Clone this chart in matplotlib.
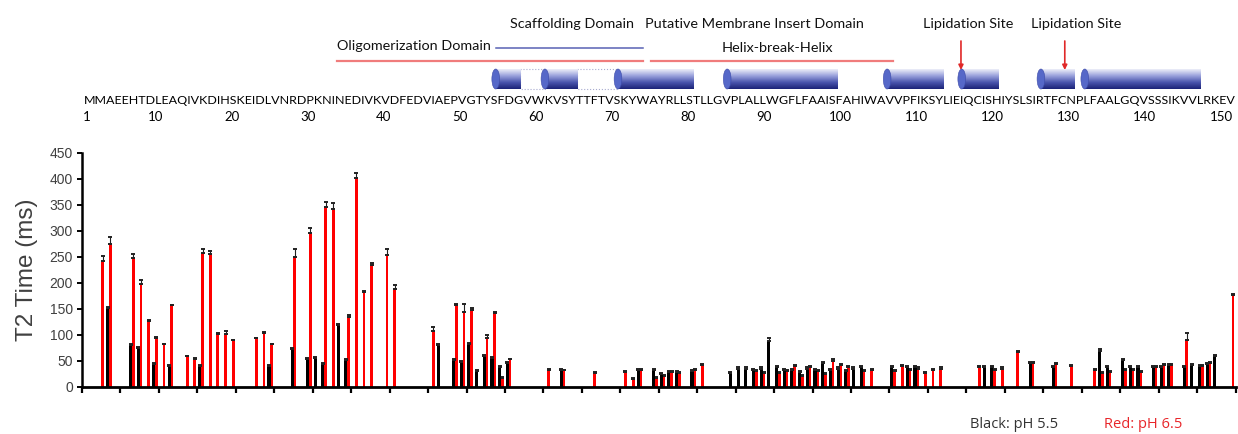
import numpy as np
import matplotlib
matplotlib.use("Agg")
import matplotlib.pyplot as plt
from matplotlib.patches import Ellipse, Rectangle
from matplotlib.colors import LinearSegmentedColormap

# T2 times per residue (ms); upper error bar only
red_res = [3, 4, 7, 8, 9, 10, 11, 12, 14, 15, 16, 17, 18, 19, 20, 23, 24, 25, 28, 30,
           32, 33, 35, 36, 37, 38, 40, 41, 46, 49, 50, 51, 53, 54, 55, 56, 61, 63, 67, 71,
           72, 73, 75, 76, 77, 78, 80, 81, 88, 89, 91, 92, 93, 94, 95, 96, 97, 98, 99, 100,
           102, 103, 106, 107, 108, 109, 110, 111, 112, 117, 119, 120, 122, 124, 127, 129, 132, 133, 134, 136,
           137, 138, 140, 141, 142, 144, 146, 147, 150]
red_val = [241, 274, 248, 198, 126, 94, 82, 157, 59, 54, 258, 255, 101, 101, 89, 93, 104, 82, 250, 296,
           345, 341, 135, 401, 182, 234, 254, 187, 107, 158, 144, 148, 94, 142, 17, 53, 33, 32, 27, 29,
           15, 33, 16, 20, 29, 27, 33, 41, 31, 27, 27, 31, 40, 20, 38, 31, 24, 50, 41, 37,
           31, 32, 31, 40, 33, 35, 27, 32, 35, 37, 32, 35, 67, 46, 43, 40, 32, 27, 29, 33,
           33, 29, 37, 41, 41, 89, 40, 45, 176]
red_err = [10, 14, 7, 8, 2, 2, 1, 1, 1, 2, 7, 5, 2, 7, 1, 1, 2, 1, 15, 10,
           10, 13, 2, 9, 2, 4, 11, 9, 8, 1, 16, 4, 6, 2, 1, 1, 2, 1, 2, 2,
           2, 2, 2, 2, 2, 2, 2, 2, 2, 2, 2, 2, 2, 2, 2, 2, 2, 3, 2, 2,
           2, 2, 2, 2, 2, 2, 2, 2, 2, 2, 2, 2, 2, 2, 2, 2, 2, 2, 2, 2,
           2, 2, 2, 2, 2, 15, 2, 2, 3]

black_res = [4, 7, 8, 10, 12, 16, 25, 28, 30, 31, 32, 34, 35, 47, 49, 50, 51, 52, 53, 54,
             55, 56, 63, 73, 75, 76, 77, 78, 80, 85, 86, 87, 88, 89, 90, 91, 92, 93, 94, 95,
             96, 97, 98, 99, 100, 101, 102, 106, 108, 109, 118, 119, 124, 127, 133, 134, 136, 137, 138, 140,
             141, 142, 144, 145, 146, 147, 148]
black_val = [152, 80, 74, 43, 40, 40, 40, 72, 53, 56, 43, 118, 51, 81, 52, 47, 83, 31, 59, 56,
             38, 46, 32, 33, 32, 24, 29, 29, 31, 27, 35, 35, 32, 35, 88, 37, 33, 32, 28, 35,
             33, 46, 33, 35, 31, 35, 38, 38, 37, 37, 38, 37, 46, 37, 68, 37, 52, 38, 37, 37,
             38, 41, 38, 41, 40, 43, 59]
black_err = [2] * len(black_res)
black_err[black_res.index(90)] = 5
black_err[black_res.index(133)] = 4

sequence = ("MMAEEHTDLEAQIVKDIHSKEIDLVNRDPKNINEDIVKVDFEDVIAEPVGTYSFDGVWKV"
            "SYTTFTVSKYWAYRLLSTLLGVPLALLWGFLFAAISFAHIWAVVPFIKSYLIEIQCISHI"
            "YSLSIRTFCNPLFAALGQVSSSIKVVLRKEV")
seq_numbers = [1, 10, 20, 30, 40, 50, 60, 70, 80, 90, 100, 110, 120, 130, 140, 150]

# helices (residue ranges) and unstructured links between them
helix_start = [54.3, 60.7, 70.2, 84.4, 105.2, 114.9, 125.2, 130.9]
helix_end = [57.5, 64.9, 80.0, 98.8, 112.6, 119.7, 129.5, 145.9]
link_start = [57.5, 64.9]
link_end = [60.7, 70.2]

lipid_sites = [114.8, 128.3]

fig = plt.figure(figsize=(12.38, 4.34), dpi=100)
W, H = 1238, 434

# main bar chart
ax = fig.add_axes([82 / W, (H - 386.7) / H, 1153.5 / W, 234 / H])
ax.bar(np.array(red_res) + 0.17, red_val, width=0.36, color="#ff0000",
       yerr=[np.zeros(len(red_err)), red_err],
       error_kw=dict(ecolor="#222222", elinewidth=0.8, capsize=1.6, capthick=1.4), zorder=2)
ax.bar(np.array(black_res) - 0.18, black_val, width=0.4, color="black",
       yerr=[np.zeros(len(black_err)), black_err],
       error_kw=dict(ecolor="#222222", elinewidth=0.8, capsize=1.6, capthick=1.4), zorder=3)

ax.set_xlim(0.5, 150.5)
ax.set_ylim(0, 450)
ax.set_yticks(np.arange(0, 451, 50))
ax.set_xticks(np.arange(0.5, 151, 5))
ax.set_xticklabels([])
ax.spines["top"].set_visible(False)
ax.spines["right"].set_visible(False)
ax.spines["left"].set_linewidth(1.8)
ax.spines["bottom"].set_linewidth(2.0)
ax.tick_params(axis="y", direction="out", length=3.5, width=1.4, pad=3,
               labelsize=10, labelcolor="#404040")
ax.tick_params(axis="x", direction="out", length=4, width=1.6)
for lab in ax.get_yticklabels():
    lab.set_family(["Liberation Sans", "DejaVu Sans"])
ax.set_ylabel("T2 Time (ms)", fontsize=17.5, color="#404040",
              family=["Liberation Sans", "DejaVu Sans"], labelpad=8)

# legend text
fig.text(970 / W, 1 - 425 / H, "Black: pH 5.5", fontsize=10.5, color="#333333",
         family=["Open Sans", "DejaVu Sans"], va="center", ha="left")
fig.text(1104 / W, 1 - 425 / H, "Red: pH 6.5", fontsize=10.5, color="#e8262a",
         family=["Open Sans", "DejaVu Sans"], va="center", ha="left")

# domain annotation strip (y in pixels from top)
top = fig.add_axes([82 / W, (H - 130) / H, 1153.5 / W, 130 / H])
top.set_xlim(0.5, 150.5)
top.set_ylim(130, 0)
top.axis("off")

narrow = ["Lato", "DejaVu Sans"]
renderer = fig.canvas.get_renderer()

# sequence as one string, squeezed to span residues 1..150
seq_text = top.text(0.76, 101, sequence, ha="left", va="center", fontsize=9,
                    family=narrow, color="black", clip_on=False)
w = seq_text.get_window_extent(renderer=renderer).width
seq_text.set_fontsize(9 * 1148 / w)

seq_x = np.linspace(1.15, 149.6, len(sequence))
for n in seq_numbers:
    top.text(seq_x[n - 1], 117, str(n), ha="center", va="center", fontsize=9.5,
             family=narrow, color="black", clip_on=False)

label_kw = dict(ha="center", va="center", family=narrow, color="#111111")
t_put = top.text(88.0, 24, "Putative Membrane Insert Domain", fontsize=10, **label_kw)
w = t_put.get_window_extent(renderer=renderer).width
hsize = 10 * 218 / w
t_put.set_fontsize(hsize)
top.text(64.2, 24, "Scaffolding Domain", fontsize=hsize, **label_kw)
top.text(115.7, 24, "Lipidation Site", fontsize=hsize, **label_kw)
top.text(129.8, 24, "Lipidation Site", fontsize=hsize, **label_kw)
top.text(43.7, 46, "Oligomerization Domain", fontsize=hsize, **label_kw)
top.text(90.9, 48, "Helix-break-Helix", fontsize=hsize, **label_kw)

top.plot([54.3, 73.5], [48, 48], color="#5862b4", lw=1.1)
top.plot([33.7, 73.5], [61, 61], color="#f07c7c", lw=1.6)
top.plot([74.5, 106.0], [61, 61], color="#f07c7c", lw=1.6)

for xs in lipid_sites:
    top.annotate("", xy=(xs, 70), xytext=(xs, 41),
                 arrowprops=dict(arrowstyle="-|>", color="#e02828", lw=1.2,
                                 mutation_scale=7, shrinkA=0, shrinkB=0))

cyl_cmap = LinearSegmentedColormap.from_list(
    "cyl", ["#eceef8", "#9aa2dc", "#4a55ad", "#1c2478"])
grad = np.linspace(0, 1, 64).reshape(-1, 1)
for x0, x1 in zip(link_start, link_end):
    top.add_patch(Rectangle((x0, 69), x1 - x0, 20, fill=False, edgecolor="#a9acd0",
                            linestyle=":", linewidth=0.8))
for x0, x1 in zip(helix_start, helix_end):
    top.imshow(grad, cmap=cyl_cmap, extent=(x0, x1, 89, 69), origin="upper",
               aspect="auto", interpolation="bilinear", zorder=3)
    top.add_patch(Ellipse((x0, 79), 1.0, 20, facecolor="#5668c8",
                          edgecolor="#3c4aa8", linewidth=0.4, zorder=4))
top.set_xlim(0.5, 150.5)
top.set_ylim(130, 0)

fig.savefig("out.png", dpi=100)
